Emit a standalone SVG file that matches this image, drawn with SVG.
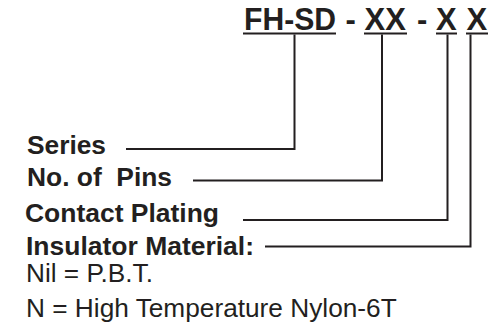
<svg xmlns="http://www.w3.org/2000/svg" width="491" height="326" viewBox="0 0 491 326">
<style>
.t{font-family:"Liberation Sans",Arial,sans-serif;fill:#231f20;white-space:pre}
.b{font-weight:bold}
.h{font-size:31px}
.l{font-size:25px}
.ln{fill:none;stroke:#231f20;stroke-width:2;stroke-linejoin:miter}
</style>
<rect width="491" height="326" fill="#fff"/>
<g id="title">
<text class="t b h" y="30"><tspan x="244" textLength="92" lengthAdjust="spacingAndGlyphs">FH-SD</tspan><tspan x="345.5">-</tspan><tspan x="364.5">XX</tspan><tspan x="417">-</tspan><tspan x="436">X</tspan><tspan x="466.5">X</tspan></text>
<line class="ln" x1="243" y1="33.5" x2="336" y2="33.5"/>
<line class="ln" x1="364" y1="33.5" x2="407" y2="33.5"/>
<line class="ln" x1="436" y1="33.5" x2="457" y2="33.5"/>
<line class="ln" x1="466" y1="33.5" x2="488" y2="33.5"/>
</g>
<g id="series"><text class="t b l" x="27" y="154" textLength="79" lengthAdjust="spacingAndGlyphs">Series</text></g>
<g id="pins"><text class="t b l" x="27" y="185.5" textLength="145" lengthAdjust="spacingAndGlyphs">No. of  Pins</text></g>
<g id="plating"><text class="t b l" x="25" y="222" textLength="194" lengthAdjust="spacingAndGlyphs">Contact Plating</text></g>
<g id="insulator">
<text class="t b l" x="26" y="255" textLength="228" lengthAdjust="spacingAndGlyphs">Insulator Material:</text>
<text class="t l" x="26" y="282" textLength="127" lengthAdjust="spacingAndGlyphs">Nil = P.B.T.</text>
<text class="t l" x="26" y="317" textLength="370.7" lengthAdjust="spacingAndGlyphs">N = High Temperature Nylon-6T</text>
</g>
<g id="connectors">
<polyline class="ln" points="294.5,34.5 294.5,149 126,149"/>
<polyline class="ln" points="382,34.5 382,180.5 193,180.5"/>
<polyline class="ln" points="447.5,34.5 447.5,220 243,220"/>
<polyline class="ln" points="470.5,34.5 470.5,246.5 265,246.5"/>
</g>
</svg>
